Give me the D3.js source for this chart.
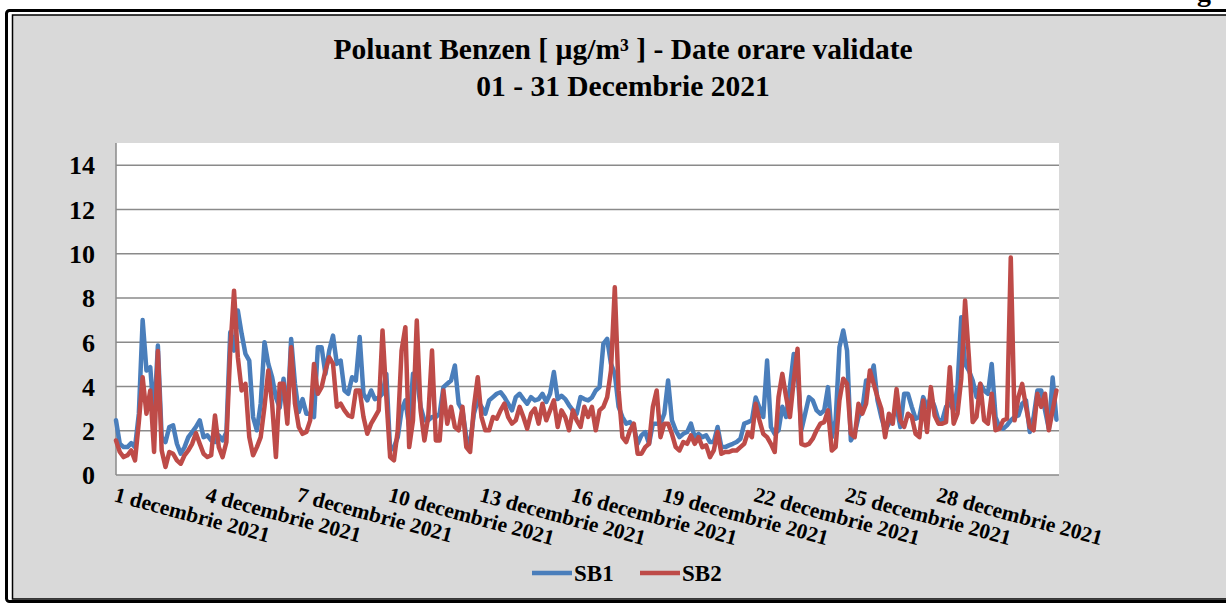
<!DOCTYPE html>
<html>
<head>
<meta charset="utf-8">
<script src="https://cdnjs.cloudflare.com/ajax/libs/d3/7.8.5/d3.min.js"></script>
<style>
    body { margin: 0; background: #fff; }
    svg { display: block; }
    text { font-family: "Liberation Serif", "Times New Roman", serif; font-weight: bold; fill: #000; }
</style>
</head>
<body>
<svg id="chart" width="1226" height="603"></svg>
<script>
// values, one value every 3 hours (01.12 00:00 .. 31.12 21:00)
var sb1 = [
    2.47, 1.41, 1.26, 1.26, 1.44, 1.26, 2.77, 7.0, 4.72, 4.87,
    2.6, 5.85, 1.71, 1.49, 2.17, 2.24, 1.41, 0.96, 1.26, 1.71,
    1.94, 2.17, 2.47, 1.71, 1.79, 1.56, 1.49, 1.79, 1.56, 1.94,
    6.45, 5.62, 7.43, 6.38, 5.47, 5.17, 2.62, 2.02, 3.22, 6.0,
    5.02, 4.42, 3.5, 3.04, 4.35, 2.62, 6.15, 4.12, 2.84, 3.43,
    2.77, 2.77, 2.62, 5.77, 5.77, 4.57, 5.62, 6.3, 5.02, 5.17,
    3.82, 3.67, 4.42, 4.27, 6.23, 3.67, 3.37, 3.82, 3.43, 3.5,
    3.67, 4.57, 1.11, 1.26, 1.71, 2.92, 3.37, 2.17, 4.57, 4.42,
    3.08, 2.47, 2.47, 2.62, 2.62, 2.77, 3.97, 4.12, 4.27, 4.95,
    3.22, 2.92, 1.71, 1.41, 2.77, 3.37, 3.08, 2.77, 3.37, 3.52,
    3.67, 3.74, 3.52, 3.22, 2.92, 3.52, 3.67, 3.43, 3.22, 3.52,
    3.37, 3.43, 3.67, 3.3, 3.67, 4.65, 3.43, 3.58, 3.43, 3.15,
    2.92, 2.77, 3.52, 3.43, 3.37, 3.5, 3.82, 3.97, 5.92, 6.15,
    5.02, 4.57, 3.08, 2.62, 2.32, 2.39, 2.17, 1.41, 1.79, 1.94,
    1.41, 2.32, 2.32, 2.32, 2.77, 4.27, 2.47, 2.02, 1.71, 1.86,
    1.94, 2.32, 1.71, 1.86, 1.71, 1.79, 1.49, 1.49, 2.17, 1.26,
    1.26, 1.34, 1.41, 1.49, 1.64, 2.32, 2.39, 2.47, 3.5, 3.04,
    2.62, 5.17, 2.17, 1.86, 2.02, 3.08, 2.62, 3.97, 5.47, 4.72,
    2.02, 2.77, 3.52, 3.37, 2.92, 2.77, 2.92, 3.97, 1.71, 2.47,
    5.77, 6.53, 5.62, 1.56, 1.86, 2.62, 2.92, 4.27, 4.27, 4.95,
    3.37, 2.62, 2.02, 2.32, 2.62, 3.08, 2.17, 3.67, 3.67, 3.08,
    2.54, 2.62, 3.52, 3.08, 3.52, 3.08, 2.47, 2.47, 3.08, 3.22,
    2.92, 3.97, 7.13, 5.02, 4.72, 4.27, 3.52, 4.12, 3.82, 3.67,
    5.02, 2.62, 2.17, 2.09, 2.24, 2.47, 2.62, 2.69, 3.22, 3.37,
    1.94, 2.62, 3.82, 3.82, 2.92, 2.09, 4.4, 2.5
];
var sb2 = [
    1.56, 1.04, 0.81, 0.89, 1.11, 0.66, 2.39, 4.42, 2.77, 3.82,
    1.04, 5.6, 1.11, 0.36, 1.04, 0.96, 0.66, 0.51, 0.89, 1.11,
    1.41, 1.89, 1.41, 0.96, 0.81, 0.89, 2.69, 1.26, 0.81, 1.49,
    5.62, 8.33, 5.32, 3.82, 4.12, 1.71, 0.89, 1.26, 1.71, 3.08,
    4.72, 3.22, 0.81, 4.12, 4.12, 2.32, 5.77, 3.22, 2.17, 1.86,
    1.94, 2.47, 5.02, 3.67, 3.97, 4.72, 5.32, 5.02, 3.08, 3.22,
    2.92, 2.69, 2.62, 3.82, 3.82, 2.62, 1.86, 2.32, 2.62, 2.92,
    6.53, 3.52, 0.81, 0.66, 2.02, 5.62, 6.68, 1.26, 2.47, 6.98,
    2.92, 1.56, 2.62, 5.62, 1.56, 1.56, 3.82, 2.32, 3.08, 2.17,
    2.02, 3.08, 1.26, 1.04, 3.08, 4.42, 2.62, 2.02, 2.02, 2.62,
    2.54, 2.92, 3.22, 2.62, 2.32, 2.47, 3.08, 2.62, 2.09, 2.77,
    3.0, 2.32, 3.22, 2.47, 2.92, 3.37, 2.17, 2.92, 2.62, 2.02,
    2.92, 2.47, 2.17, 3.08, 2.62, 3.08, 2.02, 2.92, 3.08, 3.52,
    4.72, 8.48, 3.82, 1.71, 1.49, 2.02, 2.32, 0.96, 0.96, 1.26,
    1.41, 3.08, 3.82, 1.71, 2.32, 2.32, 1.86, 1.26, 1.11, 1.49,
    1.41, 1.79, 1.41, 1.71, 1.26, 1.34, 0.81, 1.11, 1.94, 0.96,
    1.04, 1.04, 1.11, 1.11, 1.26, 1.41, 1.94, 1.71, 3.22, 2.47,
    1.86, 1.71, 1.41, 1.04, 3.52, 4.57, 3.52, 2.62, 4.27, 5.7,
    1.41, 1.34, 1.41, 1.64, 2.02, 2.32, 2.39, 2.92, 1.11, 1.26,
    3.37, 4.35, 4.12, 1.86, 1.71, 3.22, 2.77, 3.22, 4.72, 4.12,
    3.52, 3.0, 1.71, 2.77, 2.32, 3.88, 2.47, 2.17, 2.77, 2.62,
    1.86, 1.71, 3.37, 1.94, 3.97, 2.69, 2.32, 2.32, 2.39, 4.87,
    2.32, 2.77, 4.35, 7.88, 5.32, 2.39, 2.62, 4.12, 2.47, 2.32,
    3.67, 2.02, 2.09, 2.47, 2.54, 9.83, 2.47, 3.52, 4.12, 3.08,
    2.17, 2.02, 3.67, 3.08, 3.67, 2.02, 2.92, 3.82
];
var seriesNames = ['SB1', 'SB2'];
var seriesColors = ['#4a7ebb', '#be4b48'];
var dayTicks = [1, 4, 7, 10, 13, 16, 19, 22, 25, 28];
var yTicks = [0, 2, 4, 6, 8, 10, 12, 14];
var stepHours = 3;

var svg = d3.select('#chart');

// double frame of the chart area
svg.append('rect')
    .attr('x', 6.5).attr('y', 10.5)
    .attr('width', 1240).attr('height', 591)
    .attr('rx', 3)
    .style('fill', '#fff').style('stroke', '#000').style('stroke-width', 3);
svg.append('rect')
    .attr('x', 12.5).attr('y', 15)
    .attr('width', 1230).attr('height', 584)
    .style('fill', '#d9d9d9').style('stroke', '#000').style('stroke-width', 1.5);

// bit of the page heading above the chart (cut off in the source too)
svg.append('text')
    .attr('x', 1197).attr('y', 1)
    .style('font-size', '28px')
    .text('g');

var plot = { left: 116, right: 1059, top: 143, bottom: 475 };

var x = d3.scaleLinear().domain([0, 743]).range([plot.left, plot.right]);
var y = d3.scaleLinear().domain([0, 15]).range([plot.bottom, plot.top]);

svg.append('rect')
    .attr('x', plot.left).attr('y', plot.top)
    .attr('width', plot.right - plot.left).attr('height', plot.bottom - plot.top)
    .style('fill', '#fff');

// horizontal grid
svg.append('g').selectAll('line')
    .data(yTicks.filter(function (d) { return d > 0; }))
    .enter().append('line')
    .attr('x1', plot.left).attr('x2', plot.right)
    .attr('y1', function (d) { return y(d); })
    .attr('y2', function (d) { return y(d); })
    .style('stroke', '#8a8a8a').style('stroke-width', 1.5);

// axis lines
svg.append('line')
    .attr('x1', plot.left).attr('x2', plot.right)
    .attr('y1', y(0)).attr('y2', y(0))
    .style('stroke', '#8a8a8a').style('stroke-width', 1.5);
svg.append('line')
    .attr('x1', plot.left).attr('x2', plot.left)
    .attr('y1', plot.top).attr('y2', y(0))
    .style('stroke', '#8a8a8a').style('stroke-width', 1.5);

// y labels
svg.append('g').selectAll('text')
    .data(yTicks)
    .enter().append('text')
    .attr('x', 95)
    .attr('y', function (d) { return y(d); })
    .attr('dy', '0.36em')
    .attr('text-anchor', 'end')
    .style('font-size', '26px')
    .text(function (d) { return d; });

// x labels, rotated
svg.append('g').selectAll('text')
    .data(dayTicks)
    .enter().append('text')
    .attr('transform', function (d) {
        var px = x((d - 1) * 24) - 3;
        return 'translate(' + px + ',501) rotate(15)';
    })
    .style('font-size', '21.5px')
    .text(function (d) { return d + ' decembrie 2021'; });

// series
var line = d3.line()
    .x(function (d, i) { return x(i * stepHours); })
    .y(function (d) { return y(d); });

[sb1, sb2].forEach(function (values, i) {
    svg.append('path')
        .datum(values)
        .attr('d', line)
        .style('fill', 'none')
        .style('stroke', seriesColors[i])
        .style('stroke-width', 4.5)
        .style('stroke-linejoin', 'round')
        .style('stroke-linecap', 'round');
});

// title
var title = svg.append('text')
    .attr('text-anchor', 'middle')
    .style('font-size', '29.5px');
title.append('tspan').attr('x', 623).attr('y', 59).text('Poluant Benzen [ µg/m³ ] - Date orare validate');
title.append('tspan').attr('x', 623).attr('y', 96).text('01 - 31 Decembrie 2021');

// legend
var legend = svg.append('g').selectAll('g')
    .data(seriesNames)
    .enter().append('g')
    .attr('transform', function (d, i) { return 'translate(' + (532 + i * 108) + ',573)'; });
legend.append('line')
    .attr('x1', 0).attr('x2', 40)
    .style('stroke', function (d, i) { return seriesColors[i]; })
    .style('stroke-width', 4.5);
legend.append('text')
    .attr('x', 42).attr('dy', '0.36em')
    .style('font-size', '23px')
    .text(function (d) { return d; });
</script>
</body>
</html>
